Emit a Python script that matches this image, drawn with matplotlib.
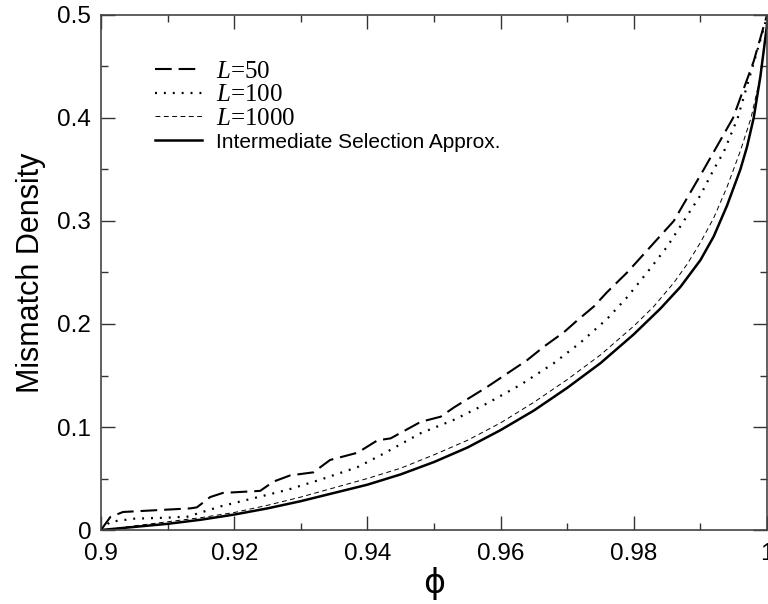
import matplotlib
matplotlib.use("Agg")
import matplotlib.pyplot as plt
import matplotlib.font_manager as fm

plt.rcParams['lines.scale_dashes'] = False
plt.rcParams['mathtext.fontset'] = 'custom'
plt.rcParams['mathtext.it'] = 'Liberation Serif:italic'
plt.rcParams['mathtext.rm'] = 'Liberation Serif'

from matplotlib.ticker import MultipleLocator

# ---- data ----
x_approx = [0.900, 0.905, 0.910, 0.915, 0.920, 0.925, 0.930, 0.935, 0.940, 0.945,
            0.950, 0.955, 0.960, 0.965, 0.970, 0.975, 0.980, 0.984, 0.987, 0.990,
            0.992, 0.994, 0.996, 0.997, 0.998, 0.999, 1.000]
y_approx = [0.000, 0.003, 0.006, 0.010, 0.015, 0.021, 0.028, 0.036, 0.044, 0.054,
            0.066, 0.080, 0.097, 0.116, 0.138, 0.162, 0.190, 0.215, 0.236, 0.262,
            0.285, 0.315, 0.350, 0.372, 0.400, 0.440, 0.490]

x_L1000 = [0.900, 0.905, 0.910, 0.915, 0.920, 0.925, 0.930, 0.935, 0.940, 0.945,
           0.950, 0.955, 0.960, 0.965, 0.970, 0.975, 0.980, 0.983, 0.986, 0.988,
           0.990, 0.992, 0.994, 0.996, 0.9976, 0.999, 1.000]
y_L1000 = [0.000, 0.004, 0.008, 0.012, 0.017, 0.024, 0.032, 0.041, 0.050, 0.060,
           0.073, 0.087, 0.104, 0.124, 0.146, 0.170, 0.198, 0.217, 0.240, 0.258,
           0.279, 0.303, 0.333, 0.368, 0.400, 0.440, 0.495]

x_L100 = [0.900, 0.9014, 0.905, 0.910, 0.913, 0.915, 0.918, 0.923, 0.928, 0.933,
          0.9385, 0.9424, 0.948, 0.953, 0.958, 0.963, 0.968, 0.972, 0.976, 0.979,
          0.982, 0.985, 0.9875, 0.990, 0.992, 0.9935, 0.9956, 1.000]
y_L100 = [0.000, 0.008, 0.011, 0.012, 0.013, 0.017, 0.023, 0.031, 0.039, 0.049,
          0.061, 0.074, 0.094, 0.107, 0.123, 0.141, 0.162, 0.182, 0.205, 0.226,
          0.250, 0.275, 0.300, 0.325, 0.350, 0.367, 0.400, 0.498]

x_L50 = [0.9000, 0.9014, 0.9033, 0.9134, 0.9144, 0.9164, 0.9183, 0.9239, 0.9259,
         0.9284, 0.9319, 0.9344, 0.9385, 0.9415, 0.9435, 0.948, 0.951, 0.953,
         0.9555, 0.958, 0.961, 0.964, 0.9665, 0.9695, 0.9716, 0.974, 0.976,
         0.979, 0.9825, 0.986, 0.9905, 0.9949, 0.998, 1.000]
y_L50 = [0.000, 0.0126, 0.0175, 0.021, 0.022, 0.032, 0.036, 0.038, 0.047,
         0.053, 0.056, 0.068, 0.075, 0.087, 0.089, 0.105, 0.110, 0.119,
         0.129, 0.139, 0.152, 0.165, 0.178, 0.192, 0.204, 0.217, 0.231,
         0.250, 0.275, 0.300, 0.350, 0.400, 0.455, 0.500]

labels = [r"$L$=50", r"$L$=100", r"$L$=1000",
          "Intermediate Selection Approx."]
xlabel = "ϕ"
ylabel = "Mismatch Density"

# ---- figure ----
fig = plt.figure(figsize=(7.68, 6.04), dpi=100)
ax = fig.add_axes([0.1315, 0.1225, 0.8672, 0.8527])

l50, = ax.plot(x_L50, y_L50, color='black', lw=1.5, dashes=(12, 5))
l100, = ax.plot(x_L100, y_L100, color='black', lw=1.6, dashes=(1.4, 5))
l1000, = ax.plot(x_L1000, y_L1000, color='black', lw=0.7, dashes=(3.5, 2.5))
lap, = ax.plot(x_approx, y_approx, color='black', lw=1.8)

ax.set_xlim(0.9, 1.0)
ax.set_ylim(0, 0.5)
ax.xaxis.set_minor_locator(MultipleLocator(0.01))
ax.yaxis.set_minor_locator(MultipleLocator(0.05))
ax.set_xticks([0.9, 0.92, 0.94, 0.96, 0.98, 1.0])
ax.set_xticklabels(["0.9", "0.92", "0.94", "0.96", "0.98", "1"])
ax.set_yticks([0, 0.1, 0.2, 0.3, 0.4, 0.5])
ax.set_yticklabels(["0", "0.1", "0.2", "0.3", "0.4", "0.5"])

ax.tick_params(which='both', direction='in', top=True, right=True,
               width=1.0, color='#333333')
ax.tick_params(which='major', length=10)
ax.tick_params(which='minor', length=5)
ax.tick_params(axis='x', which='major', pad=9)
ax.tick_params(axis='y', which='major', pad=7)
for lab in ax.get_xticklabels() + ax.get_yticklabels():
    lab.set_fontfamily('Liberation Sans')
    lab.set_fontsize(17.5)
for sp in ax.spines.values():
    sp.set_linewidth(1.2)
    sp.set_color('#444444')

ax.set_xlabel(xlabel, fontsize=24, family='DejaVu Sans', labelpad=2)
ax.set_ylabel(ylabel, fontsize=22, family='Liberation Sans', labelpad=8)

leg = ax.legend([l50, l100, l1000, lap], labels, loc='upper left',
                bbox_to_anchor=(0.081, 0.912), frameon=False,
                handlelength=1.9, handletextpad=0.55, labelspacing=0.04,
                borderaxespad=0, borderpad=0,
                prop=fm.FontProperties(family='Liberation Serif', size=18))
texts = leg.get_texts()
texts[3].set_fontfamily('Liberation Sans')
texts[3].set_fontsize(15)

fig.savefig("out.png", dpi=100)
